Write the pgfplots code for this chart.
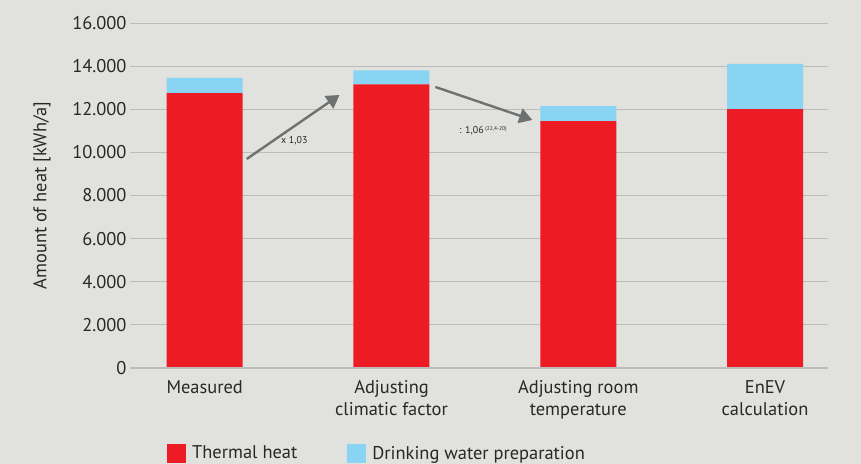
\documentclass[border=0pt]{standalone}
\usepackage{pgfplots}
\pgfplotsset{compat=1.18}
\usepackage{fontspec}
\setmainfont{PT Sans}
\usetikzlibrary{arrows.meta}
\definecolor{bg}{RGB}{225,225,221}
\definecolor{redbar}{RGB}{237,28,36}
\definecolor{bluebar}{RGB}{137,211,243}
\definecolor{gridc}{RGB}{188,188,186}
\definecolor{arrowc}{RGB}{109,113,112}
\definecolor{txt}{RGB}{40,40,40}
\begin{document}
\begin{tikzpicture}
\fill[bg] (-130bp,-96bp) rectangle (731bp,368bp);
\useasboundingbox (-130bp,-96bp) rectangle (731bp,368bp);
\begin{axis}[
  scale only axis,
  width=698bp, height=345bp,
  ybar stacked,
  bar width=76bp,
  xmin=-0.4, xmax=3.337,
  ymin=0, ymax=16000,
  ytick={0,2000,...,16000},
  xtick={0,1,2,3},
  xticklabels={Measured, Adjusting\\climatic factor, Adjusting room\\temperature, EnEV\\calculation},
  x tick label style={align=center, font=\fontsize{18.5}{22}\selectfont, text=txt, yshift=-9bp},
  y tick label style={font=\fontsize{18.5}{22}\selectfont, text=txt},
  /pgf/number format/assume math mode=true,
  /pgf/number format/.cd, 1000 sep={.}, /pgfplots/.cd,
  scaled y ticks=false,
  axis line style={draw=none},
  major tick length=0pt,
  ymajorgrids,
  grid style={gridc, line width=1pt},
  axis x line*=bottom,
  ylabel={Amount of heat [kWh/a]},
  every axis y label/.style={at={([xshift=-88bp]axis description cs:0,0.5)}, rotate=90, anchor=center},
  ylabel style={font=\fontsize{18.5}{22}\selectfont, text=txt},
  legend columns=2,
  legend style={at={(axis description cs:0.053,-0.219)}, anchor=north west,
    draw=none, fill=none, inner sep=0pt, font=\fontsize{18.5}{22}\selectfont, text=txt,
    /tikz/every even column/.append style={column sep=48bp}},
  legend image code/.code={\fill[#1] (0bp,-9.5bp) rectangle (19bp,9.5bp);},
  clip=false,
]
\draw[gridc, line width=1.2pt] (axis cs:-0.4,0) -- (axis cs:3.337,0);
\addplot[fill=redbar, draw=none] coordinates {(0,12750) (1,13150) (2,11450) (3,12000)};
\addplot[fill=bluebar, draw=none] coordinates {(0,700) (1,650) (2,700) (3,2100)};
\legend{\hspace{4bp}Thermal heat, \hspace{4bp}Drinking water preparation}
\draw[arrowc, line width=2.4pt, -{Triangle[length=13bp,width=15bp]}] (axis cs:0.225,9694) -- (axis cs:0.722,12662);
\draw[arrowc, line width=2.4pt, -{Triangle[length=13bp,width=15bp]}] (axis cs:1.235,13033) -- (axis cs:1.754,11503);
\node[font=\fontsize{10}{11}\selectfont, text=txt] at (axis cs:0.48,10530) {x 1,03};
\node[font=\fontsize{10}{11}\selectfont, text=txt] at (axis cs:1.49,10990) {: 1,06\,\raisebox{3bp}{\fontsize{5.5}{6}\selectfont (22,4-20)}};
\end{axis}
\end{tikzpicture}
\end{document}
